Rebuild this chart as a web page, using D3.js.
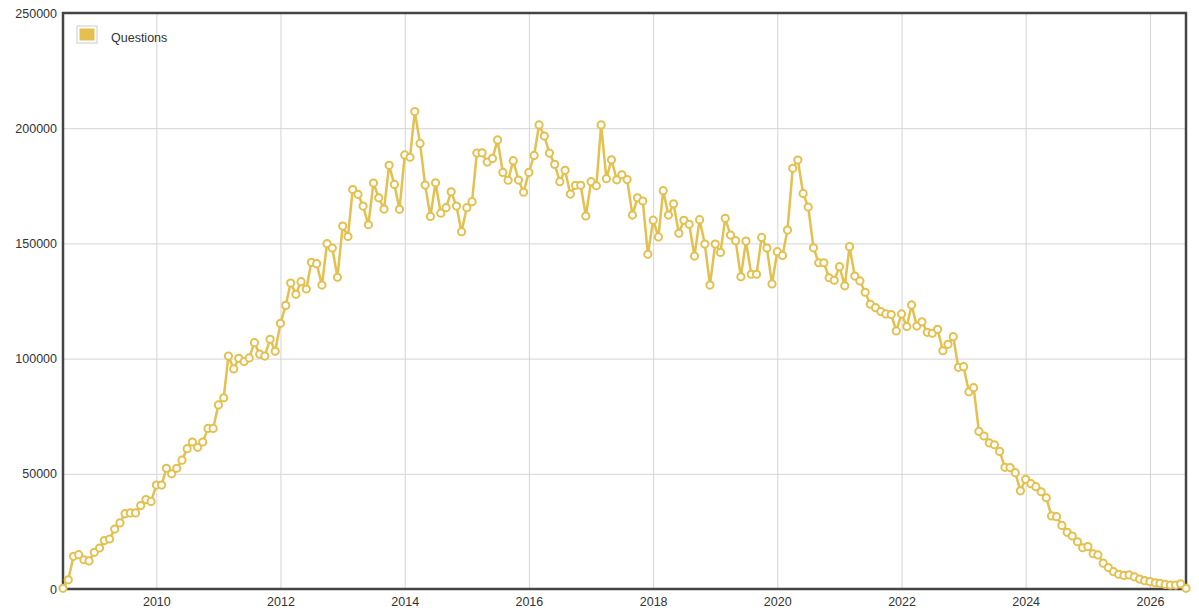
<!DOCTYPE html>
<html>
<head>
<meta charset="utf-8">
<script src="https://cdn.jsdelivr.net/npm/d3@7"></script>
<style>
  body { margin: 0; background: #fff; }
  text { font-family: "Liberation Sans", Arial, sans-serif; fill: #333; }
</style>
</head>
<body>
<div id="chart"></div>
<script>
// Monthly question counts, first month Jul 2008
const startMonth = "2008-07";
const questions = [
  300, 4000, 14200, 14900, 12700, 12200,
  15900, 17800, 21000, 21700, 26000, 28700, 32700, 33000, 33000, 36200, 38800, 38000,
  45100, 45100, 52400, 50000, 52400, 55900, 60900, 63800, 61500, 63800, 69700, 69700,
  79900, 83000, 101100, 95500, 100100, 98700, 100300, 106900, 101900, 101100, 108400, 103200,
  115300, 123100, 132800, 127900, 133400, 130200, 141800, 141200, 131900, 149900, 148000, 135300,
  157500, 153000, 173400, 171300, 166200, 158100, 176200, 169800, 164900, 183900, 175600, 164800,
  188400, 187400, 207200, 193400, 175300, 161700, 176300, 163100, 165500, 172400, 166200, 155100,
  165500, 168100, 189200, 189300, 185300, 186900, 194900, 180800, 177400, 185900, 177500, 172200,
  180800, 188200, 201400, 196600, 189200, 184300, 176800, 181700, 171400, 175200, 175200, 161900,
  176800, 175000, 201400, 178100, 186300, 177600, 179800, 177700, 162300, 169800, 168400, 145300,
  160100, 152800, 172900, 162300, 167200, 154400, 160000, 158300, 144500, 160300, 149700, 131900,
  149700, 146100, 160900, 153600, 151200, 135500, 151000, 136600, 136600, 152600, 148000, 132400,
  146400, 144800, 155800, 182600, 186200, 171700, 165800, 148100, 141600, 141600, 135100, 134000,
  139900, 131600, 148600, 135800, 133700, 128800, 123600, 122100, 120400, 119400, 119100, 112000,
  119400, 113900, 123300, 114100, 116000, 111400, 111000, 112700, 103400, 106200, 109500, 96200,
  96500, 85600, 87400, 68400, 66400, 63400, 62600, 59700, 52800, 52700, 50500, 42600,
  47600, 45700, 44400, 42200, 39600, 31700, 31400, 27600, 24600, 23000, 20500, 17900,
  18400, 15300, 14800, 11200, 9300, 7500, 6400, 5900, 6100, 5300, 4300, 3600,
  3200, 2700, 2500, 2000, 1700, 1700, 2200, 300
];
const yTicks = [0, 50000, 100000, 150000, 200000, 250000];
const xTickYears = [2010, 2012, 2014, 2016, 2018, 2020, 2022, 2024, 2026];
const seriesName = "Questions";

const margin = { top: 13, right: 13, bottom: 27, left: 63 };
const width = 1199 - margin.left - margin.right;
const height = 616 - margin.top - margin.bottom;
const color = "#e3c04f";

const parseMonth = d3.timeParse("%Y-%m");
const t0 = parseMonth(startMonth);
const data = questions.map((v, i) => ({ date: d3.timeMonth.offset(t0, i), value: v }));

const svg = d3.select("#chart")
    .append("svg")
    .attr("width", 1199)
    .attr("height", 616)
    .append("g")
    .attr("transform", `translate(${margin.left},${margin.top})`);

// Escalas
const x = d3.scaleTime()
    .domain([t0, data[data.length - 1].date])
    .range([0, width]);
const y = d3.scaleLinear()
    .domain([0, 250000])
    .range([height, 0]);

const xTicks = xTickYears.map(yr => new Date(yr, 0, 1));

// Grid
svg.append("g")
    .attr("class", "grid")
    .call(d3.axisLeft(y).tickValues(yTicks.slice(1, -1)).tickSize(-width).tickFormat(""))
    .call(g => g.select(".domain").remove())
    .call(g => g.selectAll("line").attr("stroke", "#d4d4d4").attr("stroke-width", 1));
svg.append("g")
    .attr("class", "grid")
    .attr("transform", `translate(0,${height})`)
    .call(d3.axisBottom(x).tickValues(xTicks).tickSize(-height).tickFormat(""))
    .call(g => g.select(".domain").remove())
    .call(g => g.selectAll("line").attr("stroke", "#d4d4d4").attr("stroke-width", 1));

// Eixos (labels only)
svg.append("g")
    .call(d3.axisLeft(y).tickValues(yTicks).tickSize(0).tickPadding(6).tickFormat(d3.format("d")))
    .call(g => g.select(".domain").remove())
    .call(g => g.selectAll("text").style("font-size", "12.5px").attr("fill", "#333"));
svg.append("g")
    .attr("transform", `translate(0,${height})`)
    .call(d3.axisBottom(x).tickValues(xTicks).tickSize(0).tickPadding(8).tickFormat(d3.timeFormat("%Y")))
    .call(g => g.select(".domain").remove())
    .call(g => g.selectAll("text").style("font-size", "12.5px").attr("fill", "#333"));

// Frame
svg.append("rect")
    .attr("width", width)
    .attr("height", height)
    .attr("fill", "none")
    .attr("stroke", "#444")
    .attr("stroke-width", 2.5);

// Linha
const line = d3.line()
    .x(d => x(d.date))
    .y(d => y(d.value));

svg.append("path")
    .datum(data)
    .attr("fill", "none")
    .attr("stroke", color)
    .attr("stroke-width", 2.5)
    .attr("stroke-linejoin", "round")
    .attr("d", line);

svg.selectAll(".dot")
    .data(data)
    .enter().append("circle")
    .attr("class", "dot")
    .attr("cx", d => x(d.date))
    .attr("cy", d => y(d.value))
    .attr("r", 3.6)
    .attr("fill", "#fff")
    .attr("stroke", color)
    .attr("stroke-width", 2);

// Legenda
const legend = svg.append("g").attr("transform", "translate(14,13)");
legend.append("rect")
    .attr("width", 20).attr("height", 17)
    .attr("fill", "#fff").attr("stroke", "#ccc").attr("stroke-width", 1);
legend.append("rect")
    .attr("x", 2.5).attr("y", 2.5).attr("width", 15).attr("height", 12)
    .attr("fill", color);
legend.append("text")
    .attr("x", 34).attr("y", 16)
    .style("font-size", "12.5px")
    .text(seriesName);
</script>
</body>
</html>
